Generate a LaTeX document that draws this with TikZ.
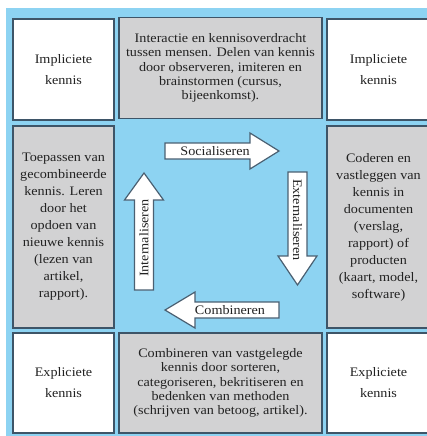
\documentclass[tikz,border=0pt]{standalone}
\usepackage{fontspec}
\setmainfont{Liberation Serif}[FakeStretch=1.09]
\definecolor{bgblue}{HTML}{8DD3F2}
\definecolor{boxgray}{HTML}{D2D2D3}
\definecolor{bordc}{HTML}{3E5568}
\definecolor{arrc}{HTML}{4A6072}
\definecolor{txt}{HTML}{222222}
\begin{document}
\begin{tikzpicture}[x=1pt,y=-1pt,
  cell/.style={draw=bordc, line width=1.5pt, inner sep=0pt, align=center, text=txt},
  whitecell/.style={cell, fill=white, font=\fontsize{13}{21}\selectfont},
  graytop/.style={cell, fill=boxgray, font=\fontsize{13}{14.3}\selectfont},
  graymid/.style={cell, fill=boxgray, font=\fontsize{13}{17}\selectfont},
  arrowshape/.style={draw=arrc, fill=white, line width=1.2pt, line join=miter},
  arrowtext/.style={inner sep=0pt, text=txt, font=\fontsize{13}{14}\selectfont}]
\useasboundingbox (0,0) rectangle (427,436);
\clip (0,0) rectangle (427,436);
\fill[bgblue] (6,8) rectangle (440,440);

% top row
\node[whitecell, minimum width=101pt, minimum height=101pt] (tl) at (63.5,69.5) {Impliciete\\kennis};
\node[graytop, minimum width=203pt, minimum height=101pt] (tm) at (220.5,68) {Interactie en kennisoverdracht\\tussen mensen. Delen van kennis\\door observeren, imiteren en\\brainstormen (cursus,\\bijeenkomst).};
\node[whitecell, minimum width=103pt, minimum height=101pt] (tr) at (378.5,69.5) {Impliciete\\kennis};

% middle row
\node[graymid, minimum width=101pt, minimum height=202pt] (ml) at (63.5,227) {Toepassen van\\gecombineerde\\kennis. Leren\\door het\\opdoen van\\nieuwe kennis\\(lezen van\\artikel,\\rapport).};
\node[graymid, minimum width=103pt, minimum height=202pt] (mr) at (378.5,227) {Coderen en\\vastleggen van\\kennis in\\documenten\\(verslag,\\rapport) of\\producten\\(kaart, model,\\software)};

% bottom row
\node[whitecell, minimum width=101pt, minimum height=100pt] (bl) at (63.5,383) {Expliciete\\kennis};
\node[graytop, minimum width=203pt, minimum height=100pt] (bm) at (220.5,383) {Combineren van vastgelegde\\kennis door sorteren,\\categoriseren, bekritiseren en\\bedenken van methoden\\(schrijven van betoog, artikel).};
\node[whitecell, minimum width=103pt, minimum height=100pt] (br) at (378.5,383) {Expliciete\\kennis};

% Socialiseren (right)
\draw[arrowshape] (165,143) -- (250,143) -- (250,133) -- (279,151) -- (250,169) -- (250,159) -- (165,159) -- cycle;
\node[arrowtext] (soc) at (215,151.5) {Socialiseren};

% Externaliseren (down)
\draw[arrowshape] (288,172) -- (307,172) -- (307,256) -- (317,256) -- (297.5,285) -- (278,256) -- (288,256) -- cycle;
\node[arrowtext, rotate=-90] (ext) at (297.5,220) {Externaliseren};

% Combineren (left)
\draw[arrowshape] (279,302) -- (195,302) -- (195,292) -- (165,310) -- (195,328) -- (195,318) -- (279,318) -- cycle;
\node[arrowtext] (comb) at (230,310.5) {Combineren};

% Internaliseren (up)
\draw[arrowshape] (134.5,290) -- (153.5,290) -- (153.5,200) -- (163.5,200) -- (144,173) -- (124.5,200) -- (134.5,200) -- cycle;
\node[arrowtext, rotate=90] (int) at (144,238) {Internaliseren};
\end{tikzpicture}
\end{document}
